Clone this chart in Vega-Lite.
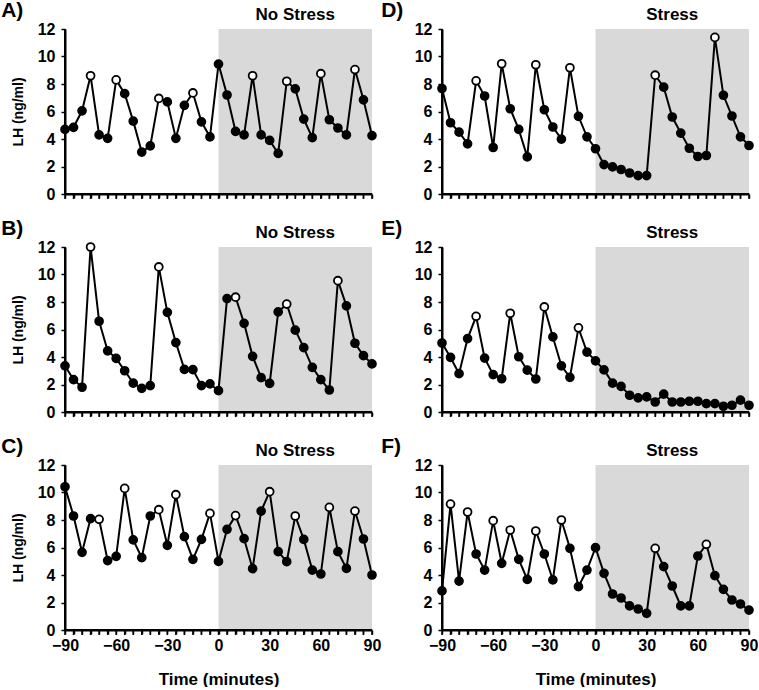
{
  "$schema": "https://vega.github.io/schema/vega-lite/v6.json",
  "padding": {"left": 1, "top": 0, "right": 0, "bottom": 0},
  "background": "white",
  "datasets": {
    "periods": [
      {"p": "A", "start": 0, "end": 90, "cond": "No Stress"},
      {"p": "B", "start": 0, "end": 90, "cond": "No Stress"},
      {"p": "C", "start": 0, "end": 90, "cond": "No Stress"},
      {"p": "D", "start": 0, "end": 90, "cond": "Stress"},
      {"p": "E", "start": 0, "end": 90, "cond": "Stress"},
      {"p": "F", "start": 0, "end": 90, "cond": "Stress"}
    ],
    "lh": [
      {"p":"A","t":-90,"v":4.7,"o":0},{"p":"A","t":-85,"v":4.85,"o":0},{"p":"A","t":-80,"v":6.05,"o":0},{"p":"A","t":-75,"v":8.6,"o":1},{"p":"A","t":-70,"v":4.3,"o":0},{"p":"A","t":-65,"v":4.05,"o":0},{"p":"A","t":-60,"v":8.3,"o":1},{"p":"A","t":-55,"v":7.3,"o":0},{"p":"A","t":-50,"v":5.3,"o":0},{"p":"A","t":-45,"v":3.05,"o":0},{"p":"A","t":-40,"v":3.5,"o":0},{"p":"A","t":-35,"v":6.95,"o":1},{"p":"A","t":-30,"v":6.7,"o":0},{"p":"A","t":-25,"v":4.05,"o":0},{"p":"A","t":-20,"v":6.45,"o":0},{"p":"A","t":-15,"v":7.35,"o":1},{"p":"A","t":-10,"v":5.25,"o":0},{"p":"A","t":-5,"v":4.15,"o":0},{"p":"A","t":0,"v":9.45,"o":0},{"p":"A","t":5,"v":7.2,"o":0},{"p":"A","t":10,"v":4.55,"o":0},{"p":"A","t":15,"v":4.3,"o":0},{"p":"A","t":20,"v":8.6,"o":1},{"p":"A","t":25,"v":4.3,"o":0},{"p":"A","t":30,"v":3.9,"o":0},{"p":"A","t":35,"v":2.95,"o":0},{"p":"A","t":40,"v":8.2,"o":1},{"p":"A","t":45,"v":7.65,"o":0},{"p":"A","t":50,"v":5.45,"o":0},{"p":"A","t":55,"v":4.1,"o":0},{"p":"A","t":60,"v":8.75,"o":1},{"p":"A","t":65,"v":5.4,"o":0},{"p":"A","t":70,"v":4.8,"o":0},{"p":"A","t":75,"v":4.3,"o":0},{"p":"A","t":80,"v":9.05,"o":1},{"p":"A","t":85,"v":6.85,"o":0},{"p":"A","t":90,"v":4.25,"o":0},
      {"p":"B","t":-90,"v":3.36,"o":0},{"p":"B","t":-85,"v":2.35,"o":0},{"p":"B","t":-80,"v":1.8,"o":0},{"p":"B","t":-75,"v":12.0,"o":1},{"p":"B","t":-70,"v":6.6,"o":0},{"p":"B","t":-65,"v":4.45,"o":0},{"p":"B","t":-60,"v":3.9,"o":0},{"p":"B","t":-55,"v":3.0,"o":0},{"p":"B","t":-50,"v":2.1,"o":0},{"p":"B","t":-45,"v":1.72,"o":0},{"p":"B","t":-40,"v":1.92,"o":0},{"p":"B","t":-35,"v":10.55,"o":1},{"p":"B","t":-30,"v":7.25,"o":0},{"p":"B","t":-25,"v":5.05,"o":0},{"p":"B","t":-20,"v":3.1,"o":0},{"p":"B","t":-15,"v":3.08,"o":0},{"p":"B","t":-10,"v":1.92,"o":0},{"p":"B","t":-5,"v":2.05,"o":0},{"p":"B","t":0,"v":1.55,"o":0},{"p":"B","t":5,"v":8.25,"o":0},{"p":"B","t":10,"v":8.35,"o":1},{"p":"B","t":15,"v":6.45,"o":0},{"p":"B","t":20,"v":4.05,"o":0},{"p":"B","t":25,"v":2.5,"o":0},{"p":"B","t":30,"v":2.08,"o":0},{"p":"B","t":35,"v":7.28,"o":0},{"p":"B","t":40,"v":7.85,"o":1},{"p":"B","t":45,"v":5.95,"o":0},{"p":"B","t":50,"v":4.68,"o":0},{"p":"B","t":55,"v":3.25,"o":0},{"p":"B","t":60,"v":2.35,"o":0},{"p":"B","t":65,"v":1.6,"o":0},{"p":"B","t":70,"v":9.55,"o":1},{"p":"B","t":75,"v":7.72,"o":0},{"p":"B","t":80,"v":5.0,"o":0},{"p":"B","t":85,"v":4.1,"o":0},{"p":"B","t":90,"v":3.5,"o":0},
      {"p":"C","t":-90,"v":10.42,"o":0},{"p":"C","t":-85,"v":8.29,"o":0},{"p":"C","t":-80,"v":5.65,"o":0},{"p":"C","t":-75,"v":8.1,"o":0},{"p":"C","t":-70,"v":8.05,"o":1},{"p":"C","t":-65,"v":5.05,"o":0},{"p":"C","t":-60,"v":5.36,"o":0},{"p":"C","t":-55,"v":10.3,"o":1},{"p":"C","t":-50,"v":6.55,"o":0},{"p":"C","t":-45,"v":5.26,"o":0},{"p":"C","t":-40,"v":8.29,"o":0},{"p":"C","t":-35,"v":8.75,"o":1},{"p":"C","t":-30,"v":6.16,"o":0},{"p":"C","t":-25,"v":9.84,"o":1},{"p":"C","t":-20,"v":6.79,"o":0},{"p":"C","t":-15,"v":5.14,"o":0},{"p":"C","t":-10,"v":6.59,"o":0},{"p":"C","t":-5,"v":8.48,"o":1},{"p":"C","t":0,"v":4.99,"o":0},{"p":"C","t":5,"v":7.32,"o":0},{"p":"C","t":10,"v":8.32,"o":1},{"p":"C","t":15,"v":6.64,"o":0},{"p":"C","t":20,"v":4.46,"o":0},{"p":"C","t":25,"v":8.65,"o":0},{"p":"C","t":30,"v":10.06,"o":1},{"p":"C","t":35,"v":5.7,"o":0},{"p":"C","t":40,"v":4.97,"o":0},{"p":"C","t":45,"v":8.29,"o":1},{"p":"C","t":50,"v":6.59,"o":0},{"p":"C","t":55,"v":4.36,"o":0},{"p":"C","t":60,"v":4.07,"o":0},{"p":"C","t":65,"v":8.92,"o":1},{"p":"C","t":70,"v":5.7,"o":0},{"p":"C","t":75,"v":4.48,"o":0},{"p":"C","t":80,"v":8.65,"o":1},{"p":"C","t":85,"v":6.62,"o":0},{"p":"C","t":90,"v":4.0,"o":0},
      {"p":"D","t":-90,"v":7.67,"o":0},{"p":"D","t":-85,"v":5.18,"o":0},{"p":"D","t":-80,"v":4.5,"o":0},{"p":"D","t":-75,"v":3.65,"o":0},{"p":"D","t":-70,"v":8.23,"o":1},{"p":"D","t":-65,"v":7.13,"o":0},{"p":"D","t":-60,"v":3.38,"o":0},{"p":"D","t":-55,"v":9.47,"o":1},{"p":"D","t":-50,"v":6.2,"o":0},{"p":"D","t":-45,"v":4.7,"o":0},{"p":"D","t":-40,"v":2.7,"o":0},{"p":"D","t":-35,"v":9.4,"o":1},{"p":"D","t":-30,"v":6.13,"o":0},{"p":"D","t":-25,"v":4.87,"o":0},{"p":"D","t":-20,"v":3.99,"o":0},{"p":"D","t":-15,"v":9.18,"o":1},{"p":"D","t":-10,"v":5.65,"o":0},{"p":"D","t":-5,"v":4.16,"o":0},{"p":"D","t":0,"v":3.29,"o":0},{"p":"D","t":5,"v":2.14,"o":0},{"p":"D","t":10,"v":1.97,"o":0},{"p":"D","t":15,"v":1.78,"o":0},{"p":"D","t":20,"v":1.53,"o":0},{"p":"D","t":25,"v":1.34,"o":0},{"p":"D","t":30,"v":1.34,"o":0},{"p":"D","t":35,"v":8.64,"o":1},{"p":"D","t":40,"v":7.77,"o":0},{"p":"D","t":45,"v":5.6,"o":0},{"p":"D","t":50,"v":4.43,"o":0},{"p":"D","t":55,"v":3.33,"o":0},{"p":"D","t":60,"v":2.73,"o":0},{"p":"D","t":65,"v":2.8,"o":0},{"p":"D","t":70,"v":11.39,"o":1},{"p":"D","t":75,"v":7.18,"o":0},{"p":"D","t":80,"v":5.67,"o":0},{"p":"D","t":85,"v":4.16,"o":0},{"p":"D","t":90,"v":3.53,"o":0},
      {"p":"E","t":-90,"v":5.02,"o":0},{"p":"E","t":-85,"v":3.97,"o":0},{"p":"E","t":-80,"v":2.79,"o":0},{"p":"E","t":-75,"v":5.34,"o":0},{"p":"E","t":-70,"v":6.96,"o":1},{"p":"E","t":-65,"v":3.92,"o":0},{"p":"E","t":-60,"v":2.72,"o":0},{"p":"E","t":-55,"v":2.42,"o":0},{"p":"E","t":-50,"v":7.18,"o":1},{"p":"E","t":-45,"v":4.02,"o":0},{"p":"E","t":-40,"v":3.04,"o":0},{"p":"E","t":-35,"v":2.4,"o":0},{"p":"E","t":-30,"v":7.64,"o":1},{"p":"E","t":-25,"v":5.46,"o":0},{"p":"E","t":-20,"v":3.36,"o":0},{"p":"E","t":-15,"v":2.52,"o":0},{"p":"E","t":-10,"v":6.12,"o":1},{"p":"E","t":-5,"v":4.36,"o":0},{"p":"E","t":0,"v":3.72,"o":0},{"p":"E","t":5,"v":3.06,"o":0},{"p":"E","t":10,"v":2.1,"o":0},{"p":"E","t":15,"v":1.86,"o":0},{"p":"E","t":20,"v":1.22,"o":0},{"p":"E","t":25,"v":1.03,"o":0},{"p":"E","t":30,"v":1.1,"o":0},{"p":"E","t":35,"v":0.73,"o":0},{"p":"E","t":40,"v":1.3,"o":0},{"p":"E","t":45,"v":0.73,"o":0},{"p":"E","t":50,"v":0.73,"o":0},{"p":"E","t":55,"v":0.78,"o":0},{"p":"E","t":60,"v":0.78,"o":0},{"p":"E","t":65,"v":0.61,"o":0},{"p":"E","t":70,"v":0.61,"o":0},{"p":"E","t":75,"v":0.42,"o":0},{"p":"E","t":80,"v":0.49,"o":0},{"p":"E","t":85,"v":0.86,"o":0},{"p":"E","t":90,"v":0.49,"o":0},
      {"p":"F","t":-90,"v":2.84,"o":0},{"p":"F","t":-85,"v":9.16,"o":1},{"p":"F","t":-80,"v":3.56,"o":0},{"p":"F","t":-75,"v":8.58,"o":1},{"p":"F","t":-70,"v":5.53,"o":0},{"p":"F","t":-65,"v":4.36,"o":0},{"p":"F","t":-60,"v":7.95,"o":1},{"p":"F","t":-55,"v":4.85,"o":0},{"p":"F","t":-50,"v":7.27,"o":1},{"p":"F","t":-45,"v":5.14,"o":0},{"p":"F","t":-40,"v":3.68,"o":0},{"p":"F","t":-35,"v":7.2,"o":1},{"p":"F","t":-30,"v":5.53,"o":0},{"p":"F","t":-25,"v":3.64,"o":0},{"p":"F","t":-20,"v":8.0,"o":1},{"p":"F","t":-15,"v":5.94,"o":0},{"p":"F","t":-10,"v":3.15,"o":0},{"p":"F","t":-5,"v":4.36,"o":0},{"p":"F","t":0,"v":5.99,"o":0},{"p":"F","t":5,"v":4.12,"o":0},{"p":"F","t":10,"v":2.62,"o":0},{"p":"F","t":15,"v":2.33,"o":0},{"p":"F","t":20,"v":1.75,"o":0},{"p":"F","t":25,"v":1.53,"o":0},{"p":"F","t":30,"v":1.21,"o":0},{"p":"F","t":35,"v":5.94,"o":1},{"p":"F","t":40,"v":4.61,"o":0},{"p":"F","t":45,"v":3.2,"o":0},{"p":"F","t":50,"v":1.75,"o":0},{"p":"F","t":55,"v":1.75,"o":0},{"p":"F","t":60,"v":5.38,"o":0},{"p":"F","t":65,"v":6.23,"o":1},{"p":"F","t":70,"v":3.95,"o":0},{"p":"F","t":75,"v":2.96,"o":0},{"p":"F","t":80,"v":2.18,"o":0},{"p":"F","t":85,"v":1.89,"o":0},{"p":"F","t":90,"v":1.45,"o":0}
    ]
  },
  "columns": 2,
  "bounds": "flush",
  "spacing": {"row": 53, "column": 70},
  "concat": [
    {
      "title": {"text": "A)", "dx": -10, "dy": 19},
      "width": 307, "height": 165,
      "layer": [
        {"data": {"name": "periods"}, "transform": [{"filter": "datum.p == 'A'"}], "mark": {"type": "rect", "color": "#d9d9d9"},
         "encoding": {"x": {"field": "start", "type": "quantitative", "scale": {"domain": [-90, 90], "nice": false, "zero": false}, "axis": {"labels": false, "title": null, "labelOverlap": false, "values": [-90,-85,-80,-75,-70,-65,-60,-55,-50,-45,-40,-35,-30,-25,-20,-15,-10,-5,0,5,10,15,20,25,30,35,40,45,50,55,60,65,70,75,80,85,90]}}, "x2": {"field": "end"}, "y": {"datum": 0, "type": "quantitative", "scale": {"domain": [0, 12], "nice": false}, "axis": {"title": "LH (ng/ml)", "labelOverlap": false, "values": [0, 2, 4, 6, 8, 10, 12]}}, "y2": {"datum": 12}}},
        {"data": {"name": "lh"}, "transform": [{"filter": "datum.p == 'A'"}], "mark": {"type": "line", "color": "black", "strokeWidth": 2},
         "encoding": {"x": {"field": "t", "type": "quantitative", "scale": {"domain": [-90, 90], "nice": false, "zero": false}, "axis": {"labels": false, "title": null, "labelOverlap": false, "values": [-90,-85,-80,-75,-70,-65,-60,-55,-50,-45,-40,-35,-30,-25,-20,-15,-10,-5,0,5,10,15,20,25,30,35,40,45,50,55,60,65,70,75,80,85,90]}}, "y": {"datum": 0, "type": "quantitative", "scale": {"domain": [0, 12], "nice": false}, "axis": {"title": "LH (ng/ml)", "labelOverlap": false, "values": [0, 2, 4, 6, 8, 10, 12]}}}},
        {"data": {"name": "periods"}, "transform": [{"filter": "datum.p == 'A'"}], "mark": {"type": "tick", "orient": "vertical", "color": "black", "size": 165, "thickness": 2, "opacity": 1},
         "encoding": {"x": {"datum": -90, "type": "quantitative", "scale": {"domain": [-90, 90], "nice": false, "zero": false}, "axis": {"labels": false, "title": null, "labelOverlap": false, "values": [-90,-85,-80,-75,-70,-65,-60,-55,-50,-45,-40,-35,-30,-25,-20,-15,-10,-5,0,5,10,15,20,25,30,35,40,45,50,55,60,65,70,75,80,85,90]}}, "y": {"datum": 6, "type": "quantitative", "scale": {"domain": [0, 12], "nice": false}, "axis": {"title": "LH (ng/ml)", "labelOverlap": false, "values": [0, 2, 4, 6, 8, 10, 12]}}}},
        {"data": {"name": "lh"}, "transform": [{"filter": "datum.p == 'A'"}], "mark": {"type": "tick", "orient": "vertical", "color": "black", "size": 4, "thickness": 1.5, "yOffset": 3, "opacity": 1},
         "encoding": {"x": {"field": "t", "type": "quantitative", "scale": {"domain": [-90, 90], "nice": false, "zero": false}, "axis": {"labels": false, "title": null, "labelOverlap": false, "values": [-90,-85,-80,-75,-70,-65,-60,-55,-50,-45,-40,-35,-30,-25,-20,-15,-10,-5,0,5,10,15,20,25,30,35,40,45,50,55,60,65,70,75,80,85,90]}}, "y": {"datum": 0, "type": "quantitative", "scale": {"domain": [0, 12], "nice": false}, "axis": {"title": "LH (ng/ml)", "labelOverlap": false, "values": [0, 2, 4, 6, 8, 10, 12]}}}},
        {"data": {"name": "lh"}, "transform": [{"filter": "datum.p == 'A'"}], "mark": {"type": "line", "color": "black", "strokeWidth": 2},
         "encoding": {"x": {"field": "t", "type": "quantitative", "scale": {"domain": [-90, 90], "nice": false, "zero": false}, "axis": {"labels": false, "title": null, "labelOverlap": false, "values": [-90,-85,-80,-75,-70,-65,-60,-55,-50,-45,-40,-35,-30,-25,-20,-15,-10,-5,0,5,10,15,20,25,30,35,40,45,50,55,60,65,70,75,80,85,90]}}, "y": {"field": "v", "type": "quantitative", "scale": {"domain": [0, 12], "nice": false}, "axis": {"title": "LH (ng/ml)", "labelOverlap": false, "values": [0, 2, 4, 6, 8, 10, 12]}}}},
        {"data": {"name": "lh"}, "transform": [{"filter": "datum.p == 'A'"}], "mark": {"type": "point", "filled": true, "size": 62, "stroke": "black", "strokeWidth": 1.8, "opacity": 1},
         "encoding": {"x": {"field": "t", "type": "quantitative", "scale": {"domain": [-90, 90], "nice": false, "zero": false}, "axis": {"labels": false, "title": null, "labelOverlap": false, "values": [-90,-85,-80,-75,-70,-65,-60,-55,-50,-45,-40,-35,-30,-25,-20,-15,-10,-5,0,5,10,15,20,25,30,35,40,45,50,55,60,65,70,75,80,85,90]}}, "y": {"field": "v", "type": "quantitative", "scale": {"domain": [0, 12], "nice": false}, "axis": {"title": "LH (ng/ml)", "labelOverlap": false, "values": [0, 2, 4, 6, 8, 10, 12]}}, "fill": {"condition": {"test": "datum.o == 1", "value": "white"}, "value": "black"}}},
        {"data": {"name": "periods"}, "transform": [{"filter": "datum.p == 'A'"}], "mark": {"type": "text", "fontSize": 17, "fontWeight": "bold", "baseline": "alphabetic", "dy": -9, "color": "black"},
         "encoding": {"x": {"datum": 45, "type": "quantitative", "scale": {"domain": [-90, 90], "nice": false, "zero": false}, "axis": {"labels": false, "title": null, "labelOverlap": false, "values": [-90,-85,-80,-75,-70,-65,-60,-55,-50,-45,-40,-35,-30,-25,-20,-15,-10,-5,0,5,10,15,20,25,30,35,40,45,50,55,60,65,70,75,80,85,90]}}, "y": {"datum": 12, "type": "quantitative", "scale": {"domain": [0, 12], "nice": false}, "axis": {"title": "LH (ng/ml)", "labelOverlap": false, "values": [0, 2, 4, 6, 8, 10, 12]}}, "text": {"field": "cond"}}}
      ]
    },
    {
      "title": {"text": "D)", "dx": -33, "dy": 19},
      "width": 307, "height": 165,
      "layer": [
        {"data": {"name": "periods"}, "transform": [{"filter": "datum.p == 'D'"}], "mark": {"type": "rect", "color": "#d9d9d9"},
         "encoding": {"x": {"field": "start", "type": "quantitative", "scale": {"domain": [-90, 90], "nice": false, "zero": false}, "axis": {"labels": false, "title": null, "labelOverlap": false, "values": [-90,-85,-80,-75,-70,-65,-60,-55,-50,-45,-40,-35,-30,-25,-20,-15,-10,-5,0,5,10,15,20,25,30,35,40,45,50,55,60,65,70,75,80,85,90]}}, "x2": {"field": "end"}, "y": {"datum": 0, "type": "quantitative", "scale": {"domain": [0, 12], "nice": false}, "axis": {"title": null, "labelOverlap": false, "values": [0, 2, 4, 6, 8, 10, 12]}}, "y2": {"datum": 12}}},
        {"data": {"name": "lh"}, "transform": [{"filter": "datum.p == 'D'"}], "mark": {"type": "line", "color": "black", "strokeWidth": 2},
         "encoding": {"x": {"field": "t", "type": "quantitative", "scale": {"domain": [-90, 90], "nice": false, "zero": false}, "axis": {"labels": false, "title": null, "labelOverlap": false, "values": [-90,-85,-80,-75,-70,-65,-60,-55,-50,-45,-40,-35,-30,-25,-20,-15,-10,-5,0,5,10,15,20,25,30,35,40,45,50,55,60,65,70,75,80,85,90]}}, "y": {"datum": 0, "type": "quantitative", "scale": {"domain": [0, 12], "nice": false}, "axis": {"title": null, "labelOverlap": false, "values": [0, 2, 4, 6, 8, 10, 12]}}}},
        {"data": {"name": "periods"}, "transform": [{"filter": "datum.p == 'D'"}], "mark": {"type": "tick", "orient": "vertical", "color": "black", "size": 165, "thickness": 2, "opacity": 1},
         "encoding": {"x": {"datum": -90, "type": "quantitative", "scale": {"domain": [-90, 90], "nice": false, "zero": false}, "axis": {"labels": false, "title": null, "labelOverlap": false, "values": [-90,-85,-80,-75,-70,-65,-60,-55,-50,-45,-40,-35,-30,-25,-20,-15,-10,-5,0,5,10,15,20,25,30,35,40,45,50,55,60,65,70,75,80,85,90]}}, "y": {"datum": 6, "type": "quantitative", "scale": {"domain": [0, 12], "nice": false}, "axis": {"title": null, "labelOverlap": false, "values": [0, 2, 4, 6, 8, 10, 12]}}}},
        {"data": {"name": "lh"}, "transform": [{"filter": "datum.p == 'D'"}], "mark": {"type": "tick", "orient": "vertical", "color": "black", "size": 4, "thickness": 1.5, "yOffset": 3, "opacity": 1},
         "encoding": {"x": {"field": "t", "type": "quantitative", "scale": {"domain": [-90, 90], "nice": false, "zero": false}, "axis": {"labels": false, "title": null, "labelOverlap": false, "values": [-90,-85,-80,-75,-70,-65,-60,-55,-50,-45,-40,-35,-30,-25,-20,-15,-10,-5,0,5,10,15,20,25,30,35,40,45,50,55,60,65,70,75,80,85,90]}}, "y": {"datum": 0, "type": "quantitative", "scale": {"domain": [0, 12], "nice": false}, "axis": {"title": null, "labelOverlap": false, "values": [0, 2, 4, 6, 8, 10, 12]}}}},
        {"data": {"name": "lh"}, "transform": [{"filter": "datum.p == 'D'"}], "mark": {"type": "line", "color": "black", "strokeWidth": 2},
         "encoding": {"x": {"field": "t", "type": "quantitative", "scale": {"domain": [-90, 90], "nice": false, "zero": false}, "axis": {"labels": false, "title": null, "labelOverlap": false, "values": [-90,-85,-80,-75,-70,-65,-60,-55,-50,-45,-40,-35,-30,-25,-20,-15,-10,-5,0,5,10,15,20,25,30,35,40,45,50,55,60,65,70,75,80,85,90]}}, "y": {"field": "v", "type": "quantitative", "scale": {"domain": [0, 12], "nice": false}, "axis": {"title": null, "labelOverlap": false, "values": [0, 2, 4, 6, 8, 10, 12]}}}},
        {"data": {"name": "lh"}, "transform": [{"filter": "datum.p == 'D'"}], "mark": {"type": "point", "filled": true, "size": 62, "stroke": "black", "strokeWidth": 1.8, "opacity": 1},
         "encoding": {"x": {"field": "t", "type": "quantitative", "scale": {"domain": [-90, 90], "nice": false, "zero": false}, "axis": {"labels": false, "title": null, "labelOverlap": false, "values": [-90,-85,-80,-75,-70,-65,-60,-55,-50,-45,-40,-35,-30,-25,-20,-15,-10,-5,0,5,10,15,20,25,30,35,40,45,50,55,60,65,70,75,80,85,90]}}, "y": {"field": "v", "type": "quantitative", "scale": {"domain": [0, 12], "nice": false}, "axis": {"title": null, "labelOverlap": false, "values": [0, 2, 4, 6, 8, 10, 12]}}, "fill": {"condition": {"test": "datum.o == 1", "value": "white"}, "value": "black"}}},
        {"data": {"name": "periods"}, "transform": [{"filter": "datum.p == 'D'"}], "mark": {"type": "text", "fontSize": 17, "fontWeight": "bold", "baseline": "alphabetic", "dy": -9, "color": "black"},
         "encoding": {"x": {"datum": 45, "type": "quantitative", "scale": {"domain": [-90, 90], "nice": false, "zero": false}, "axis": {"labels": false, "title": null, "labelOverlap": false, "values": [-90,-85,-80,-75,-70,-65,-60,-55,-50,-45,-40,-35,-30,-25,-20,-15,-10,-5,0,5,10,15,20,25,30,35,40,45,50,55,60,65,70,75,80,85,90]}}, "y": {"datum": 12, "type": "quantitative", "scale": {"domain": [0, 12], "nice": false}, "axis": {"title": null, "labelOverlap": false, "values": [0, 2, 4, 6, 8, 10, 12]}}, "text": {"field": "cond"}}}
      ]
    },
    {
      "title": {"text": "B)", "dx": -10, "dy": 19},
      "width": 307, "height": 165,
      "layer": [
        {"data": {"name": "periods"}, "transform": [{"filter": "datum.p == 'B'"}], "mark": {"type": "rect", "color": "#d9d9d9"},
         "encoding": {"x": {"field": "start", "type": "quantitative", "scale": {"domain": [-90, 90], "nice": false, "zero": false}, "axis": {"labels": false, "title": null, "labelOverlap": false, "values": [-90,-85,-80,-75,-70,-65,-60,-55,-50,-45,-40,-35,-30,-25,-20,-15,-10,-5,0,5,10,15,20,25,30,35,40,45,50,55,60,65,70,75,80,85,90]}}, "x2": {"field": "end"}, "y": {"datum": 0, "type": "quantitative", "scale": {"domain": [0, 12], "nice": false}, "axis": {"title": "LH (ng/ml)", "labelOverlap": false, "values": [0, 2, 4, 6, 8, 10, 12]}}, "y2": {"datum": 12}}},
        {"data": {"name": "lh"}, "transform": [{"filter": "datum.p == 'B'"}], "mark": {"type": "line", "color": "black", "strokeWidth": 2},
         "encoding": {"x": {"field": "t", "type": "quantitative", "scale": {"domain": [-90, 90], "nice": false, "zero": false}, "axis": {"labels": false, "title": null, "labelOverlap": false, "values": [-90,-85,-80,-75,-70,-65,-60,-55,-50,-45,-40,-35,-30,-25,-20,-15,-10,-5,0,5,10,15,20,25,30,35,40,45,50,55,60,65,70,75,80,85,90]}}, "y": {"datum": 0, "type": "quantitative", "scale": {"domain": [0, 12], "nice": false}, "axis": {"title": "LH (ng/ml)", "labelOverlap": false, "values": [0, 2, 4, 6, 8, 10, 12]}}}},
        {"data": {"name": "periods"}, "transform": [{"filter": "datum.p == 'B'"}], "mark": {"type": "tick", "orient": "vertical", "color": "black", "size": 165, "thickness": 2, "opacity": 1},
         "encoding": {"x": {"datum": -90, "type": "quantitative", "scale": {"domain": [-90, 90], "nice": false, "zero": false}, "axis": {"labels": false, "title": null, "labelOverlap": false, "values": [-90,-85,-80,-75,-70,-65,-60,-55,-50,-45,-40,-35,-30,-25,-20,-15,-10,-5,0,5,10,15,20,25,30,35,40,45,50,55,60,65,70,75,80,85,90]}}, "y": {"datum": 6, "type": "quantitative", "scale": {"domain": [0, 12], "nice": false}, "axis": {"title": "LH (ng/ml)", "labelOverlap": false, "values": [0, 2, 4, 6, 8, 10, 12]}}}},
        {"data": {"name": "lh"}, "transform": [{"filter": "datum.p == 'B'"}], "mark": {"type": "tick", "orient": "vertical", "color": "black", "size": 4, "thickness": 1.5, "yOffset": 3, "opacity": 1},
         "encoding": {"x": {"field": "t", "type": "quantitative", "scale": {"domain": [-90, 90], "nice": false, "zero": false}, "axis": {"labels": false, "title": null, "labelOverlap": false, "values": [-90,-85,-80,-75,-70,-65,-60,-55,-50,-45,-40,-35,-30,-25,-20,-15,-10,-5,0,5,10,15,20,25,30,35,40,45,50,55,60,65,70,75,80,85,90]}}, "y": {"datum": 0, "type": "quantitative", "scale": {"domain": [0, 12], "nice": false}, "axis": {"title": "LH (ng/ml)", "labelOverlap": false, "values": [0, 2, 4, 6, 8, 10, 12]}}}},
        {"data": {"name": "lh"}, "transform": [{"filter": "datum.p == 'B'"}], "mark": {"type": "line", "color": "black", "strokeWidth": 2},
         "encoding": {"x": {"field": "t", "type": "quantitative", "scale": {"domain": [-90, 90], "nice": false, "zero": false}, "axis": {"labels": false, "title": null, "labelOverlap": false, "values": [-90,-85,-80,-75,-70,-65,-60,-55,-50,-45,-40,-35,-30,-25,-20,-15,-10,-5,0,5,10,15,20,25,30,35,40,45,50,55,60,65,70,75,80,85,90]}}, "y": {"field": "v", "type": "quantitative", "scale": {"domain": [0, 12], "nice": false}, "axis": {"title": "LH (ng/ml)", "labelOverlap": false, "values": [0, 2, 4, 6, 8, 10, 12]}}}},
        {"data": {"name": "lh"}, "transform": [{"filter": "datum.p == 'B'"}], "mark": {"type": "point", "filled": true, "size": 62, "stroke": "black", "strokeWidth": 1.8, "opacity": 1},
         "encoding": {"x": {"field": "t", "type": "quantitative", "scale": {"domain": [-90, 90], "nice": false, "zero": false}, "axis": {"labels": false, "title": null, "labelOverlap": false, "values": [-90,-85,-80,-75,-70,-65,-60,-55,-50,-45,-40,-35,-30,-25,-20,-15,-10,-5,0,5,10,15,20,25,30,35,40,45,50,55,60,65,70,75,80,85,90]}}, "y": {"field": "v", "type": "quantitative", "scale": {"domain": [0, 12], "nice": false}, "axis": {"title": "LH (ng/ml)", "labelOverlap": false, "values": [0, 2, 4, 6, 8, 10, 12]}}, "fill": {"condition": {"test": "datum.o == 1", "value": "white"}, "value": "black"}}},
        {"data": {"name": "periods"}, "transform": [{"filter": "datum.p == 'B'"}], "mark": {"type": "text", "fontSize": 17, "fontWeight": "bold", "baseline": "alphabetic", "dy": -9, "color": "black"},
         "encoding": {"x": {"datum": 45, "type": "quantitative", "scale": {"domain": [-90, 90], "nice": false, "zero": false}, "axis": {"labels": false, "title": null, "labelOverlap": false, "values": [-90,-85,-80,-75,-70,-65,-60,-55,-50,-45,-40,-35,-30,-25,-20,-15,-10,-5,0,5,10,15,20,25,30,35,40,45,50,55,60,65,70,75,80,85,90]}}, "y": {"datum": 12, "type": "quantitative", "scale": {"domain": [0, 12], "nice": false}, "axis": {"title": "LH (ng/ml)", "labelOverlap": false, "values": [0, 2, 4, 6, 8, 10, 12]}}, "text": {"field": "cond"}}}
      ]
    },
    {
      "title": {"text": "E)", "dx": -33, "dy": 19},
      "width": 307, "height": 165,
      "layer": [
        {"data": {"name": "periods"}, "transform": [{"filter": "datum.p == 'E'"}], "mark": {"type": "rect", "color": "#d9d9d9"},
         "encoding": {"x": {"field": "start", "type": "quantitative", "scale": {"domain": [-90, 90], "nice": false, "zero": false}, "axis": {"labels": false, "title": null, "labelOverlap": false, "values": [-90,-85,-80,-75,-70,-65,-60,-55,-50,-45,-40,-35,-30,-25,-20,-15,-10,-5,0,5,10,15,20,25,30,35,40,45,50,55,60,65,70,75,80,85,90]}}, "x2": {"field": "end"}, "y": {"datum": 0, "type": "quantitative", "scale": {"domain": [0, 12], "nice": false}, "axis": {"title": null, "labelOverlap": false, "values": [0, 2, 4, 6, 8, 10, 12]}}, "y2": {"datum": 12}}},
        {"data": {"name": "lh"}, "transform": [{"filter": "datum.p == 'E'"}], "mark": {"type": "line", "color": "black", "strokeWidth": 2},
         "encoding": {"x": {"field": "t", "type": "quantitative", "scale": {"domain": [-90, 90], "nice": false, "zero": false}, "axis": {"labels": false, "title": null, "labelOverlap": false, "values": [-90,-85,-80,-75,-70,-65,-60,-55,-50,-45,-40,-35,-30,-25,-20,-15,-10,-5,0,5,10,15,20,25,30,35,40,45,50,55,60,65,70,75,80,85,90]}}, "y": {"datum": 0, "type": "quantitative", "scale": {"domain": [0, 12], "nice": false}, "axis": {"title": null, "labelOverlap": false, "values": [0, 2, 4, 6, 8, 10, 12]}}}},
        {"data": {"name": "periods"}, "transform": [{"filter": "datum.p == 'E'"}], "mark": {"type": "tick", "orient": "vertical", "color": "black", "size": 165, "thickness": 2, "opacity": 1},
         "encoding": {"x": {"datum": -90, "type": "quantitative", "scale": {"domain": [-90, 90], "nice": false, "zero": false}, "axis": {"labels": false, "title": null, "labelOverlap": false, "values": [-90,-85,-80,-75,-70,-65,-60,-55,-50,-45,-40,-35,-30,-25,-20,-15,-10,-5,0,5,10,15,20,25,30,35,40,45,50,55,60,65,70,75,80,85,90]}}, "y": {"datum": 6, "type": "quantitative", "scale": {"domain": [0, 12], "nice": false}, "axis": {"title": null, "labelOverlap": false, "values": [0, 2, 4, 6, 8, 10, 12]}}}},
        {"data": {"name": "lh"}, "transform": [{"filter": "datum.p == 'E'"}], "mark": {"type": "tick", "orient": "vertical", "color": "black", "size": 4, "thickness": 1.5, "yOffset": 3, "opacity": 1},
         "encoding": {"x": {"field": "t", "type": "quantitative", "scale": {"domain": [-90, 90], "nice": false, "zero": false}, "axis": {"labels": false, "title": null, "labelOverlap": false, "values": [-90,-85,-80,-75,-70,-65,-60,-55,-50,-45,-40,-35,-30,-25,-20,-15,-10,-5,0,5,10,15,20,25,30,35,40,45,50,55,60,65,70,75,80,85,90]}}, "y": {"datum": 0, "type": "quantitative", "scale": {"domain": [0, 12], "nice": false}, "axis": {"title": null, "labelOverlap": false, "values": [0, 2, 4, 6, 8, 10, 12]}}}},
        {"data": {"name": "lh"}, "transform": [{"filter": "datum.p == 'E'"}], "mark": {"type": "line", "color": "black", "strokeWidth": 2},
         "encoding": {"x": {"field": "t", "type": "quantitative", "scale": {"domain": [-90, 90], "nice": false, "zero": false}, "axis": {"labels": false, "title": null, "labelOverlap": false, "values": [-90,-85,-80,-75,-70,-65,-60,-55,-50,-45,-40,-35,-30,-25,-20,-15,-10,-5,0,5,10,15,20,25,30,35,40,45,50,55,60,65,70,75,80,85,90]}}, "y": {"field": "v", "type": "quantitative", "scale": {"domain": [0, 12], "nice": false}, "axis": {"title": null, "labelOverlap": false, "values": [0, 2, 4, 6, 8, 10, 12]}}}},
        {"data": {"name": "lh"}, "transform": [{"filter": "datum.p == 'E'"}], "mark": {"type": "point", "filled": true, "size": 62, "stroke": "black", "strokeWidth": 1.8, "opacity": 1},
         "encoding": {"x": {"field": "t", "type": "quantitative", "scale": {"domain": [-90, 90], "nice": false, "zero": false}, "axis": {"labels": false, "title": null, "labelOverlap": false, "values": [-90,-85,-80,-75,-70,-65,-60,-55,-50,-45,-40,-35,-30,-25,-20,-15,-10,-5,0,5,10,15,20,25,30,35,40,45,50,55,60,65,70,75,80,85,90]}}, "y": {"field": "v", "type": "quantitative", "scale": {"domain": [0, 12], "nice": false}, "axis": {"title": null, "labelOverlap": false, "values": [0, 2, 4, 6, 8, 10, 12]}}, "fill": {"condition": {"test": "datum.o == 1", "value": "white"}, "value": "black"}}},
        {"data": {"name": "periods"}, "transform": [{"filter": "datum.p == 'E'"}], "mark": {"type": "text", "fontSize": 17, "fontWeight": "bold", "baseline": "alphabetic", "dy": -9, "color": "black"},
         "encoding": {"x": {"datum": 45, "type": "quantitative", "scale": {"domain": [-90, 90], "nice": false, "zero": false}, "axis": {"labels": false, "title": null, "labelOverlap": false, "values": [-90,-85,-80,-75,-70,-65,-60,-55,-50,-45,-40,-35,-30,-25,-20,-15,-10,-5,0,5,10,15,20,25,30,35,40,45,50,55,60,65,70,75,80,85,90]}}, "y": {"datum": 12, "type": "quantitative", "scale": {"domain": [0, 12], "nice": false}, "axis": {"title": null, "labelOverlap": false, "values": [0, 2, 4, 6, 8, 10, 12]}}, "text": {"field": "cond"}}}
      ]
    },
    {
      "title": {"text": "C)", "dx": -10, "dy": 19},
      "width": 307, "height": 165,
      "layer": [
        {"data": {"name": "periods"}, "transform": [{"filter": "datum.p == 'C'"}], "mark": {"type": "rect", "color": "#d9d9d9"},
         "encoding": {"x": {"field": "start", "type": "quantitative", "scale": {"domain": [-90, 90], "nice": false, "zero": false}, "axis": {"title": "Time (minutes)", "values": [-90,-85,-80,-75,-70,-65,-60,-55,-50,-45,-40,-35,-30,-25,-20,-15,-10,-5,0,5,10,15,20,25,30,35,40,45,50,55,60,65,70,75,80,85,90], "labelExpr": "datum.value % 30 == 0 ? datum.label : ''", "labelOverlap": false, "labelFlush": false, "labelPadding": 3, "titlePadding": 18, "titleFontSize": 17}}, "x2": {"field": "end"}, "y": {"datum": 0, "type": "quantitative", "scale": {"domain": [0, 12], "nice": false}, "axis": {"title": "LH (ng/ml)", "labelOverlap": false, "values": [0, 2, 4, 6, 8, 10, 12]}}, "y2": {"datum": 12}}},
        {"data": {"name": "lh"}, "transform": [{"filter": "datum.p == 'C'"}], "mark": {"type": "line", "color": "black", "strokeWidth": 2},
         "encoding": {"x": {"field": "t", "type": "quantitative", "scale": {"domain": [-90, 90], "nice": false, "zero": false}, "axis": {"title": "Time (minutes)", "values": [-90,-85,-80,-75,-70,-65,-60,-55,-50,-45,-40,-35,-30,-25,-20,-15,-10,-5,0,5,10,15,20,25,30,35,40,45,50,55,60,65,70,75,80,85,90], "labelExpr": "datum.value % 30 == 0 ? datum.label : ''", "labelOverlap": false, "labelFlush": false, "labelPadding": 3, "titlePadding": 18, "titleFontSize": 17}}, "y": {"datum": 0, "type": "quantitative", "scale": {"domain": [0, 12], "nice": false}, "axis": {"title": "LH (ng/ml)", "labelOverlap": false, "values": [0, 2, 4, 6, 8, 10, 12]}}}},
        {"data": {"name": "periods"}, "transform": [{"filter": "datum.p == 'C'"}], "mark": {"type": "tick", "orient": "vertical", "color": "black", "size": 165, "thickness": 2, "opacity": 1},
         "encoding": {"x": {"datum": -90, "type": "quantitative", "scale": {"domain": [-90, 90], "nice": false, "zero": false}, "axis": {"title": "Time (minutes)", "values": [-90,-85,-80,-75,-70,-65,-60,-55,-50,-45,-40,-35,-30,-25,-20,-15,-10,-5,0,5,10,15,20,25,30,35,40,45,50,55,60,65,70,75,80,85,90], "labelExpr": "datum.value % 30 == 0 ? datum.label : ''", "labelOverlap": false, "labelFlush": false, "labelPadding": 3, "titlePadding": 18, "titleFontSize": 17}}, "y": {"datum": 6, "type": "quantitative", "scale": {"domain": [0, 12], "nice": false}, "axis": {"title": "LH (ng/ml)", "labelOverlap": false, "values": [0, 2, 4, 6, 8, 10, 12]}}}},
        {"data": {"name": "lh"}, "transform": [{"filter": "datum.p == 'C'"}], "mark": {"type": "tick", "orient": "vertical", "color": "black", "size": 4, "thickness": 1.5, "yOffset": 3, "opacity": 1},
         "encoding": {"x": {"field": "t", "type": "quantitative", "scale": {"domain": [-90, 90], "nice": false, "zero": false}, "axis": {"title": "Time (minutes)", "values": [-90,-85,-80,-75,-70,-65,-60,-55,-50,-45,-40,-35,-30,-25,-20,-15,-10,-5,0,5,10,15,20,25,30,35,40,45,50,55,60,65,70,75,80,85,90], "labelExpr": "datum.value % 30 == 0 ? datum.label : ''", "labelOverlap": false, "labelFlush": false, "labelPadding": 3, "titlePadding": 18, "titleFontSize": 17}}, "y": {"datum": 0, "type": "quantitative", "scale": {"domain": [0, 12], "nice": false}, "axis": {"title": "LH (ng/ml)", "labelOverlap": false, "values": [0, 2, 4, 6, 8, 10, 12]}}}},
        {"data": {"name": "lh"}, "transform": [{"filter": "datum.p == 'C'"}], "mark": {"type": "line", "color": "black", "strokeWidth": 2},
         "encoding": {"x": {"field": "t", "type": "quantitative", "scale": {"domain": [-90, 90], "nice": false, "zero": false}, "axis": {"title": "Time (minutes)", "values": [-90,-85,-80,-75,-70,-65,-60,-55,-50,-45,-40,-35,-30,-25,-20,-15,-10,-5,0,5,10,15,20,25,30,35,40,45,50,55,60,65,70,75,80,85,90], "labelExpr": "datum.value % 30 == 0 ? datum.label : ''", "labelOverlap": false, "labelFlush": false, "labelPadding": 3, "titlePadding": 18, "titleFontSize": 17}}, "y": {"field": "v", "type": "quantitative", "scale": {"domain": [0, 12], "nice": false}, "axis": {"title": "LH (ng/ml)", "labelOverlap": false, "values": [0, 2, 4, 6, 8, 10, 12]}}}},
        {"data": {"name": "lh"}, "transform": [{"filter": "datum.p == 'C'"}], "mark": {"type": "point", "filled": true, "size": 62, "stroke": "black", "strokeWidth": 1.8, "opacity": 1},
         "encoding": {"x": {"field": "t", "type": "quantitative", "scale": {"domain": [-90, 90], "nice": false, "zero": false}, "axis": {"title": "Time (minutes)", "values": [-90,-85,-80,-75,-70,-65,-60,-55,-50,-45,-40,-35,-30,-25,-20,-15,-10,-5,0,5,10,15,20,25,30,35,40,45,50,55,60,65,70,75,80,85,90], "labelExpr": "datum.value % 30 == 0 ? datum.label : ''", "labelOverlap": false, "labelFlush": false, "labelPadding": 3, "titlePadding": 18, "titleFontSize": 17}}, "y": {"field": "v", "type": "quantitative", "scale": {"domain": [0, 12], "nice": false}, "axis": {"title": "LH (ng/ml)", "labelOverlap": false, "values": [0, 2, 4, 6, 8, 10, 12]}}, "fill": {"condition": {"test": "datum.o == 1", "value": "white"}, "value": "black"}}},
        {"data": {"name": "periods"}, "transform": [{"filter": "datum.p == 'C'"}], "mark": {"type": "text", "fontSize": 17, "fontWeight": "bold", "baseline": "alphabetic", "dy": -9, "color": "black"},
         "encoding": {"x": {"datum": 45, "type": "quantitative", "scale": {"domain": [-90, 90], "nice": false, "zero": false}, "axis": {"title": "Time (minutes)", "values": [-90,-85,-80,-75,-70,-65,-60,-55,-50,-45,-40,-35,-30,-25,-20,-15,-10,-5,0,5,10,15,20,25,30,35,40,45,50,55,60,65,70,75,80,85,90], "labelExpr": "datum.value % 30 == 0 ? datum.label : ''", "labelOverlap": false, "labelFlush": false, "labelPadding": 3, "titlePadding": 18, "titleFontSize": 17}}, "y": {"datum": 12, "type": "quantitative", "scale": {"domain": [0, 12], "nice": false}, "axis": {"title": "LH (ng/ml)", "labelOverlap": false, "values": [0, 2, 4, 6, 8, 10, 12]}}, "text": {"field": "cond"}}}
      ]
    },
    {
      "title": {"text": "F)", "dx": -33, "dy": 19},
      "width": 307, "height": 165,
      "layer": [
        {"data": {"name": "periods"}, "transform": [{"filter": "datum.p == 'F'"}], "mark": {"type": "rect", "color": "#d9d9d9"},
         "encoding": {"x": {"field": "start", "type": "quantitative", "scale": {"domain": [-90, 90], "nice": false, "zero": false}, "axis": {"title": "Time (minutes)", "values": [-90,-85,-80,-75,-70,-65,-60,-55,-50,-45,-40,-35,-30,-25,-20,-15,-10,-5,0,5,10,15,20,25,30,35,40,45,50,55,60,65,70,75,80,85,90], "labelExpr": "datum.value % 30 == 0 ? datum.label : ''", "labelOverlap": false, "labelFlush": false, "labelPadding": 3, "titlePadding": 18, "titleFontSize": 17}}, "x2": {"field": "end"}, "y": {"datum": 0, "type": "quantitative", "scale": {"domain": [0, 12], "nice": false}, "axis": {"title": null, "labelOverlap": false, "values": [0, 2, 4, 6, 8, 10, 12]}}, "y2": {"datum": 12}}},
        {"data": {"name": "lh"}, "transform": [{"filter": "datum.p == 'F'"}], "mark": {"type": "line", "color": "black", "strokeWidth": 2},
         "encoding": {"x": {"field": "t", "type": "quantitative", "scale": {"domain": [-90, 90], "nice": false, "zero": false}, "axis": {"title": "Time (minutes)", "values": [-90,-85,-80,-75,-70,-65,-60,-55,-50,-45,-40,-35,-30,-25,-20,-15,-10,-5,0,5,10,15,20,25,30,35,40,45,50,55,60,65,70,75,80,85,90], "labelExpr": "datum.value % 30 == 0 ? datum.label : ''", "labelOverlap": false, "labelFlush": false, "labelPadding": 3, "titlePadding": 18, "titleFontSize": 17}}, "y": {"datum": 0, "type": "quantitative", "scale": {"domain": [0, 12], "nice": false}, "axis": {"title": null, "labelOverlap": false, "values": [0, 2, 4, 6, 8, 10, 12]}}}},
        {"data": {"name": "periods"}, "transform": [{"filter": "datum.p == 'F'"}], "mark": {"type": "tick", "orient": "vertical", "color": "black", "size": 165, "thickness": 2, "opacity": 1},
         "encoding": {"x": {"datum": -90, "type": "quantitative", "scale": {"domain": [-90, 90], "nice": false, "zero": false}, "axis": {"title": "Time (minutes)", "values": [-90,-85,-80,-75,-70,-65,-60,-55,-50,-45,-40,-35,-30,-25,-20,-15,-10,-5,0,5,10,15,20,25,30,35,40,45,50,55,60,65,70,75,80,85,90], "labelExpr": "datum.value % 30 == 0 ? datum.label : ''", "labelOverlap": false, "labelFlush": false, "labelPadding": 3, "titlePadding": 18, "titleFontSize": 17}}, "y": {"datum": 6, "type": "quantitative", "scale": {"domain": [0, 12], "nice": false}, "axis": {"title": null, "labelOverlap": false, "values": [0, 2, 4, 6, 8, 10, 12]}}}},
        {"data": {"name": "lh"}, "transform": [{"filter": "datum.p == 'F'"}], "mark": {"type": "tick", "orient": "vertical", "color": "black", "size": 4, "thickness": 1.5, "yOffset": 3, "opacity": 1},
         "encoding": {"x": {"field": "t", "type": "quantitative", "scale": {"domain": [-90, 90], "nice": false, "zero": false}, "axis": {"title": "Time (minutes)", "values": [-90,-85,-80,-75,-70,-65,-60,-55,-50,-45,-40,-35,-30,-25,-20,-15,-10,-5,0,5,10,15,20,25,30,35,40,45,50,55,60,65,70,75,80,85,90], "labelExpr": "datum.value % 30 == 0 ? datum.label : ''", "labelOverlap": false, "labelFlush": false, "labelPadding": 3, "titlePadding": 18, "titleFontSize": 17}}, "y": {"datum": 0, "type": "quantitative", "scale": {"domain": [0, 12], "nice": false}, "axis": {"title": null, "labelOverlap": false, "values": [0, 2, 4, 6, 8, 10, 12]}}}},
        {"data": {"name": "lh"}, "transform": [{"filter": "datum.p == 'F'"}], "mark": {"type": "line", "color": "black", "strokeWidth": 2},
         "encoding": {"x": {"field": "t", "type": "quantitative", "scale": {"domain": [-90, 90], "nice": false, "zero": false}, "axis": {"title": "Time (minutes)", "values": [-90,-85,-80,-75,-70,-65,-60,-55,-50,-45,-40,-35,-30,-25,-20,-15,-10,-5,0,5,10,15,20,25,30,35,40,45,50,55,60,65,70,75,80,85,90], "labelExpr": "datum.value % 30 == 0 ? datum.label : ''", "labelOverlap": false, "labelFlush": false, "labelPadding": 3, "titlePadding": 18, "titleFontSize": 17}}, "y": {"field": "v", "type": "quantitative", "scale": {"domain": [0, 12], "nice": false}, "axis": {"title": null, "labelOverlap": false, "values": [0, 2, 4, 6, 8, 10, 12]}}}},
        {"data": {"name": "lh"}, "transform": [{"filter": "datum.p == 'F'"}], "mark": {"type": "point", "filled": true, "size": 62, "stroke": "black", "strokeWidth": 1.8, "opacity": 1},
         "encoding": {"x": {"field": "t", "type": "quantitative", "scale": {"domain": [-90, 90], "nice": false, "zero": false}, "axis": {"title": "Time (minutes)", "values": [-90,-85,-80,-75,-70,-65,-60,-55,-50,-45,-40,-35,-30,-25,-20,-15,-10,-5,0,5,10,15,20,25,30,35,40,45,50,55,60,65,70,75,80,85,90], "labelExpr": "datum.value % 30 == 0 ? datum.label : ''", "labelOverlap": false, "labelFlush": false, "labelPadding": 3, "titlePadding": 18, "titleFontSize": 17}}, "y": {"field": "v", "type": "quantitative", "scale": {"domain": [0, 12], "nice": false}, "axis": {"title": null, "labelOverlap": false, "values": [0, 2, 4, 6, 8, 10, 12]}}, "fill": {"condition": {"test": "datum.o == 1", "value": "white"}, "value": "black"}}},
        {"data": {"name": "periods"}, "transform": [{"filter": "datum.p == 'F'"}], "mark": {"type": "text", "fontSize": 17, "fontWeight": "bold", "baseline": "alphabetic", "dy": -9, "color": "black"},
         "encoding": {"x": {"datum": 45, "type": "quantitative", "scale": {"domain": [-90, 90], "nice": false, "zero": false}, "axis": {"title": "Time (minutes)", "values": [-90,-85,-80,-75,-70,-65,-60,-55,-50,-45,-40,-35,-30,-25,-20,-15,-10,-5,0,5,10,15,20,25,30,35,40,45,50,55,60,65,70,75,80,85,90], "labelExpr": "datum.value % 30 == 0 ? datum.label : ''", "labelOverlap": false, "labelFlush": false, "labelPadding": 3, "titlePadding": 18, "titleFontSize": 17}}, "y": {"datum": 12, "type": "quantitative", "scale": {"domain": [0, 12], "nice": false}, "axis": {"title": null, "labelOverlap": false, "values": [0, 2, 4, 6, 8, 10, 12]}}, "text": {"field": "cond"}}}
      ]
    }
  ],
  "config": {
    "font": "Liberation Sans",
    "view": {"stroke": null},
    "title": {"fontSize": 21, "fontWeight": "bold", "anchor": "start", "frame": "bounds", "color": "black", "font": "Liberation Sans", "offset": 0},
    "text": {"font": "Liberation Sans"},
    "axis": {"grid": false, "domainColor": "black", "domainWidth": 2, "tickColor": "black", "tickWidth": 1.5, "tickSize": 4, "labelFont": "Liberation Sans", "labelFontSize": 16, "labelFontWeight": "bold", "labelColor": "black", "titleFont": "Liberation Sans", "titleFontSize": 14, "titleFontWeight": "bold", "titleColor": "black"},
    "axisY": {"labelPadding": 6, "titlePadding": 12}
  }
}
